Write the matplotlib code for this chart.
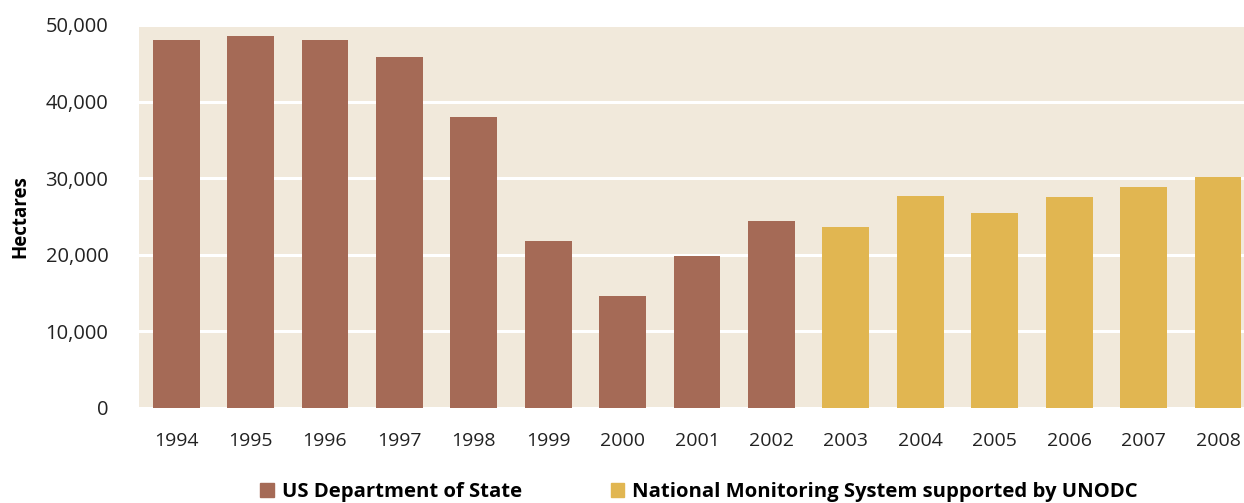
import matplotlib.pyplot as plt
from matplotlib.patches import Patch

years = ["1994", "1995", "1996", "1997", "1998", "1999", "2000", "2001",
         "2002", "2003", "2004", "2005", "2006", "2007", "2008"]
hectares = [48100, 48600, 48100, 45800, 38000, 21800, 14600, 19900,
            24400, 23600, 27700, 25400, 27500, 28900, 30200]
sources = ["US Department of State"] * 9 + ["National Monitoring System supported by UNODC"] * 6

source_colors = {
    "US Department of State": "#A56A56",
    "National Monitoring System supported by UNODC": "#E1B651",
}

plt.rcParams["font.family"] = ["Open Sans", "DejaVu Sans"]

fig = plt.figure(figsize=(12.44, 5.03), dpi=100)
ax = fig.add_axes([0.1117, 0.1889, 0.8883, 0.7614])
ax.set_facecolor("#F1E9DB")

x = list(range(len(years)))
ax.bar(x, hectares, width=0.63, color=[source_colors[s] for s in sources], zorder=3)

ax.set_xlim(-0.5, 14.35)
ax.set_ylim(0, 50000)
ax.set_yticks(range(0, 50001, 10000))
ax.set_yticklabels([f"{v:,}" for v in range(0, 50001, 10000)], fontsize=14.5, color="#222222")
ax.set_xticks(x)
ax.set_xticklabels(years, fontsize=14, color="#222222")
ax.tick_params(axis="both", length=0)
ax.tick_params(axis="x", pad=17)
ax.tick_params(axis="y", pad=22)
ax.grid(axis="y", color="white", linewidth=2.2, zorder=1)
for side in ax.spines.values():
    side.set_visible(False)

ax.set_ylabel("Hectares", fontsize=13.5, fontweight="bold")
ax.yaxis.set_label_coords(-0.098, 0.5)

handles = [Patch(color=c, label=l) for l, c in source_colors.items()]
fig.legend(handles=handles, loc="center", bbox_to_anchor=(0.562, 0.022), ncol=2,
           frameon=False, handlelength=0.65, handleheight=0.65, handletextpad=0.4,
           columnspacing=4.4,
           prop={"family": ["Liberation Sans Narrow", "Open Sans", "DejaVu Sans"],
                 "weight": "bold", "size": 14.6})

fig.savefig("out.png", dpi=100)
